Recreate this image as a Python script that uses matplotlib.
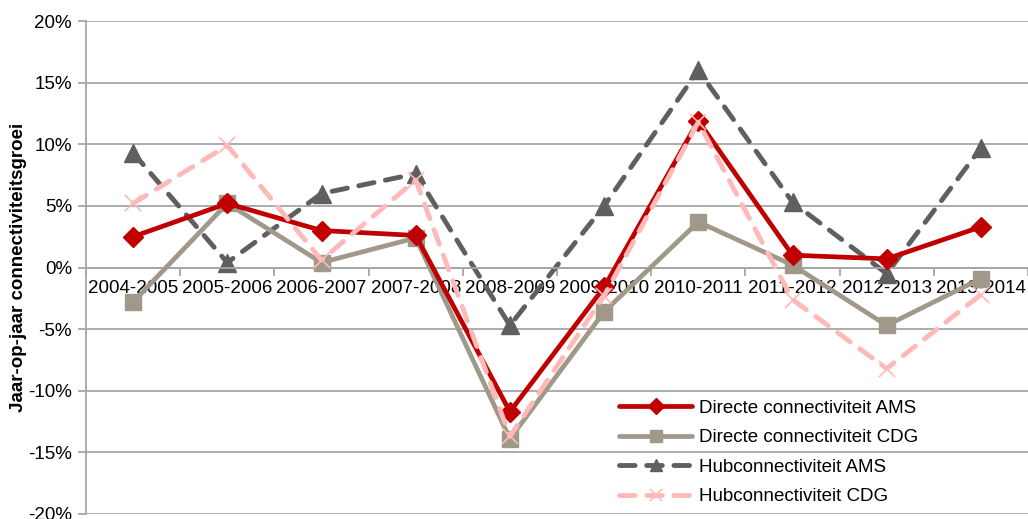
import matplotlib
matplotlib.use("Agg")
import matplotlib.pyplot as plt
import numpy as np

categories = ["2004-2005", "2005-2006", "2006-2007", "2007-2008", "2008-2009",
              "2009-2010", "2010-2011", "2011-2012", "2012-2013", "2013-2014"]
directe_ams = [2.5, 5.2, 3.0, 2.6, -11.7, -1.6, 11.9, 1.0, 0.7, 3.3]
directe_cdg = [-2.8, 5.2, 0.4, 2.4, -13.9, -3.6, 3.7, 0.2, -4.7, -0.9]
hub_ams = [9.3, 0.4, 6.0, 7.6, -4.7, 5.0, 16.0, 5.3, -0.5, 9.7]
hub_cdg = [5.2, 9.9, 0.6, 7.1, -13.7, -2.3, 11.8, -2.6, -8.2, -2.2]
yticks = [-20, -15, -10, -5, 0, 5, 10, 15, 20]
ylabel = "Jaar-op-jaar connectiviteitsgroei"

plt.rcParams['font.family'] = ['Liberation Sans', 'DejaVu Sans']

fig = plt.figure(figsize=(10.28, 5.19), dpi=100)
ax = fig.add_axes([86/1028, 5/519, 942/1028, 493/519])

x = np.arange(len(categories))
grid_c = '#A6A6A6'
for yt in yticks:
    ax.axhline(yt, color=grid_c, lw=1.3, zorder=0)

ax.plot(x, directe_ams, color='#C00000', lw=3.4, marker='D', ms=10,
        solid_capstyle='round', label='Directe connectiviteit AMS', zorder=4)
ax.plot(x, directe_cdg, color='#A0998A', lw=3.4, marker='s', ms=12,
        solid_capstyle='round', label='Directe connectiviteit CDG', zorder=3)
ax.plot(x, hub_ams, color='#5F5F5F', lw=3.5, marker='^', ms=13,
        dashes=(3.2, 2.4), dash_capstyle='round', label='Hubconnectiviteit AMS', zorder=2)
ax.plot(x, hub_cdg, color='#FFB9B9', lw=3.5, marker='x', ms=12, mew=1.2,
        dashes=(3.2, 2.4), dash_capstyle='round', label='Hubconnectiviteit CDG', zorder=5)

ax.set_xlim(-0.5, len(categories) - 0.5)
ax.set_ylim(-20, 20)
ax.set_yticks(yticks)
ax.set_yticklabels([f"{v}%" for v in yticks], fontsize=13.5)

ax.spines['top'].set_visible(False)
ax.spines['right'].set_visible(False)
ax.spines['left'].set_color(grid_c)
ax.spines['left'].set_linewidth(1.3)
ax.spines['bottom'].set_position(('data', 0))
ax.spines['bottom'].set_color(grid_c)
ax.spines['bottom'].set_linewidth(1.3)
ax.tick_params(axis='y', length=6, color=grid_c, width=1.3, pad=4)

ax.set_xticks(x)
ax.set_xticklabels(categories, fontsize=13.5)
ax.set_xticks(np.arange(-0.5, len(categories), 1), minor=True)
ax.tick_params(axis='x', which='major', length=0, pad=9)
ax.tick_params(axis='x', which='minor', length=6, color=grid_c, width=1.3, direction='out')

ax.set_ylabel(ylabel, fontsize=13.5, fontweight='bold', labelpad=1)

leg = ax.legend(loc='upper left', bbox_to_anchor=(0.566, 0.232), frameon=False,
                fontsize=13.5, handlelength=3.9, handletextpad=0.35,
                labelspacing=0.66, borderaxespad=0, borderpad=0)
for h in leg.legend_handles:
    h.set_markersize(8)

fig.savefig("out.png", dpi=100)
